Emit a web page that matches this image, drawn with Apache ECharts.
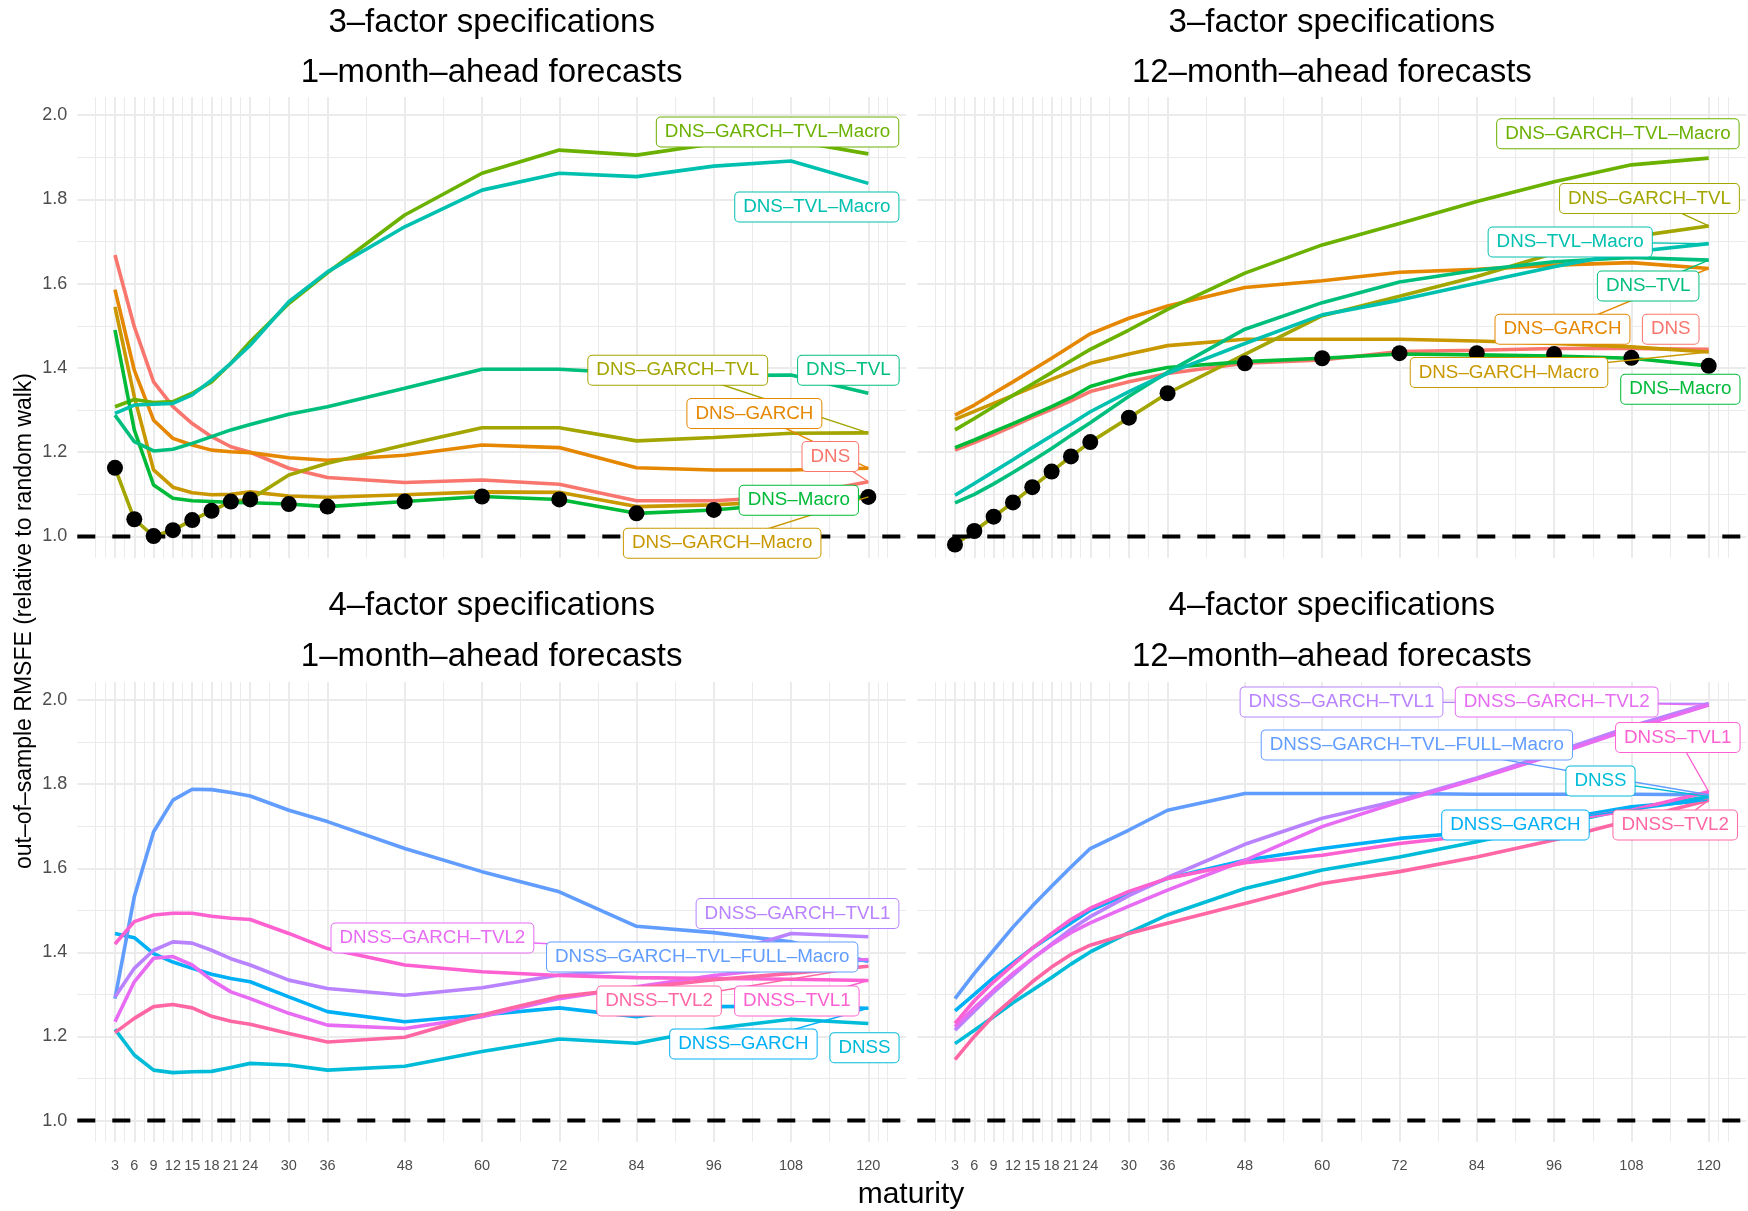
<!DOCTYPE html>
<html><head><meta charset="utf-8">
<script src="https://cdn.jsdelivr.net/npm/echarts@6/dist/echarts.min.js"></script>
<style>html,body{margin:0;padding:0;background:#fff}#c{width:1748px;height:1211px}</style>
</head><body><div id="c"></div>
<script>
// ---------- data ----------
const maturity = [3,6,9,12,15,18,21,24,30,36,48,60,72,84,96,108,120];
const xTickLabels = [3,6,9,12,15,18,21,24,30,36,48,60,72,84,96,108,120];
const xMinorBreaks = [0,1.5,4.5,7.5,10.5,13.5,16.5,19.5,22.5,27,33,42,54,66,78,90,102,114,121.5,123];
const yTickLabels = [1.0,1.2,1.4,1.6,1.8,2.0];
const yMinorBreaks = [1.1,1.3,1.5,1.7,1.9];
const refLevel = 1.0;

const names3 = ['DNS','DNS–GARCH','DNS–GARCH–Macro','DNS–GARCH–TVL','DNS–GARCH–TVL–Macro','DNS–Macro','DNS–TVL','DNS–TVL–Macro'];
const names4 = ['DNSS','DNSS–GARCH','DNSS–GARCH–TVL–FULL–Macro','DNSS–GARCH–TVL1','DNSS–GARCH–TVL2','DNSS–TVL1','DNSS–TVL2'];

// 3-factor, 1-month-ahead
const f3h1_DNS        = [1.668,1.498,1.367,1.308,1.268,1.237,1.213,1.200,1.162,1.140,1.128,1.134,1.124,1.085,1.085,1.095,1.130];
const f3h1_GARCH      = [1.586,1.395,1.276,1.233,1.217,1.205,1.201,1.199,1.187,1.181,1.193,1.217,1.211,1.163,1.158,1.158,1.162];
const f3h1_GARCHMacro = [1.545,1.332,1.158,1.117,1.104,1.099,1.100,1.106,1.096,1.093,1.099,1.106,1.105,1.071,1.075,1.085,1.094];
const f3h1_GARCHTVL   = [1.163,1.041,1.001,1.015,1.039,1.061,1.083,1.088,1.146,1.174,1.217,1.258,1.258,1.227,1.235,1.245,1.246];
const f3h1_GARCHTVLMacro = [1.308,1.325,1.318,1.320,1.340,1.367,1.411,1.462,1.553,1.626,1.763,1.862,1.917,1.905,1.932,1.940,1.908];
const f3h1_Macro      = [1.490,1.253,1.122,1.091,1.085,1.083,1.081,1.080,1.077,1.071,1.083,1.095,1.088,1.055,1.063,1.079,1.095];
const f3h1_TVL        = [1.288,1.225,1.203,1.207,1.221,1.237,1.253,1.266,1.290,1.308,1.352,1.397,1.397,1.387,1.382,1.383,1.340];
const f3h1_TVLMacro   = [1.292,1.312,1.314,1.316,1.336,1.371,1.411,1.454,1.557,1.628,1.735,1.822,1.862,1.854,1.879,1.891,1.838];
const f3h1_best       = [1.163,1.041,1.001,1.015,1.039,1.061,1.083,1.088,1.077,1.071,1.083,1.095,1.088,1.055,1.063,1.079,1.094];

// 3-factor, 12-month-ahead
const f3h12_DNS        = [1.205,1.223,1.242,1.262,1.283,1.302,1.322,1.344,1.367,1.387,1.411,1.419,1.439,1.442,1.446,1.446,1.444];
const f3h12_GARCH      = [1.288,1.312,1.340,1.367,1.395,1.423,1.452,1.481,1.518,1.547,1.591,1.607,1.627,1.634,1.644,1.650,1.636];
const f3h12_GARCHMacro = [1.278,1.297,1.316,1.335,1.354,1.373,1.392,1.411,1.433,1.453,1.468,1.468,1.468,1.464,1.458,1.450,1.438];
const f3h12_GARCHTVL   = [0.981,1.013,1.047,1.081,1.117,1.154,1.190,1.224,1.282,1.340,1.432,1.524,1.570,1.617,1.672,1.711,1.737];
const f3h12_GARCHTVLMacro = [1.253,1.280,1.308,1.335,1.362,1.389,1.417,1.444,1.490,1.539,1.625,1.692,1.743,1.795,1.842,1.882,1.898];
const f3h12_Macro      = [1.211,1.229,1.249,1.268,1.288,1.308,1.330,1.356,1.383,1.401,1.415,1.423,1.433,1.431,1.428,1.423,1.405];
const f3h12_TVL        = [1.080,1.100,1.125,1.152,1.180,1.209,1.240,1.270,1.333,1.390,1.492,1.555,1.604,1.632,1.652,1.662,1.656];
const f3h12_TVLMacro   = [1.098,1.126,1.154,1.182,1.211,1.239,1.267,1.296,1.344,1.387,1.458,1.526,1.561,1.601,1.640,1.675,1.695];
const f3h12_best       = [0.981,1.013,1.047,1.081,1.117,1.154,1.190,1.224,1.282,1.340,1.411,1.423,1.435,1.435,1.433,1.424,1.405];

// 4-factor, 1-month-ahead
const f4h1_DNSS      = [1.217,1.156,1.120,1.114,1.116,1.117,1.126,1.136,1.132,1.120,1.129,1.164,1.194,1.184,1.219,1.241,1.231];
const f4h1_GARCH     = [1.445,1.435,1.397,1.377,1.362,1.348,1.338,1.330,1.294,1.259,1.235,1.251,1.268,1.247,1.271,1.272,1.267];
const f4h1_FULLMacro = [1.290,1.532,1.687,1.762,1.788,1.787,1.780,1.772,1.738,1.711,1.647,1.592,1.544,1.462,1.447,1.425,1.378];
const f4h1_GARCHTVL1 = [1.294,1.362,1.405,1.425,1.422,1.405,1.385,1.370,1.334,1.314,1.298,1.316,1.346,1.358,1.389,1.445,1.437];
const f4h1_GARCHTVL2 = [1.235,1.330,1.386,1.390,1.370,1.334,1.306,1.290,1.255,1.227,1.219,1.247,1.290,1.318,1.345,1.365,1.383];
const f4h1_TVL1      = [1.420,1.473,1.489,1.493,1.493,1.486,1.481,1.478,1.445,1.409,1.370,1.354,1.345,1.340,1.338,1.336,1.333];
const f4h1_TVL2      = [1.209,1.243,1.271,1.276,1.268,1.248,1.236,1.229,1.207,1.187,1.198,1.251,1.295,1.315,1.335,1.350,1.367];

// 4-factor, 12-month-ahead
const f4h12_DNSS      = [1.183,1.215,1.247,1.280,1.310,1.340,1.372,1.401,1.447,1.489,1.552,1.596,1.627,1.663,1.703,1.742,1.770];
const f4h12_GARCH     = [1.261,1.300,1.340,1.375,1.410,1.440,1.470,1.500,1.540,1.576,1.619,1.647,1.671,1.687,1.715,1.746,1.762];
const f4h12_FULLMacro = [1.290,1.350,1.405,1.460,1.510,1.557,1.603,1.647,1.691,1.738,1.778,1.778,1.778,1.776,1.776,1.776,1.775];
const f4h12_GARCHTVL1 = [1.215,1.260,1.305,1.345,1.385,1.420,1.455,1.485,1.535,1.578,1.657,1.719,1.762,1.815,1.875,1.938,1.992];
const f4h12_GARCHTVL2 = [1.223,1.268,1.310,1.350,1.385,1.418,1.447,1.470,1.510,1.548,1.619,1.699,1.758,1.812,1.870,1.932,1.988];
const f4h12_TVL1      = [1.231,1.285,1.330,1.370,1.410,1.445,1.478,1.505,1.545,1.576,1.613,1.631,1.659,1.679,1.711,1.738,1.782];
const f4h12_TVL2      = [1.145,1.200,1.250,1.290,1.330,1.365,1.395,1.417,1.445,1.469,1.516,1.564,1.592,1.627,1.667,1.715,1.762];

// ---------- styling / layout ----------
const col3 = ['#F8766D','#E58700','#C99800','#A3A500','#6BB100','#00BA38','#00BF7D','#00C0AF'];
const col4 = ['#00BCD8','#00B0F6','#619CFF','#B983FF','#E76BF3','#FD61D1','#FF67A4'];

// repelled label anchor positions (maturity, value) and whether a leader segment is drawn
const labPosTL = [[114.1,1.19],[102.3,1.292],[97.3,0.984],[90.4,1.3945],[105.9,1.96],[109.2,1.086],[116.9,1.3945],[112.0,1.782]];
const leaderTL = [1,1,1,1,0,0,0,0];
const labPosTR = [[114.1,1.492],[97.3,1.492],[89.0,1.389],[110.8,1.802],[105.9,1.9557],[115.6,1.3495],[110.6,1.5946],[98.5,1.699]];
const leaderTR = [0,1,1,1,0,0,1,1];
const labPosBL = [[119.4,1.1734],[100.6,1.1823],[94.2,1.389],[109.0,1.4923],[52.3,1.4342],[108.9,1.2843],[87.5,1.2843]];
const leaderBL = [0,1,1,0,1,1,1];
const labPosBR = [[103.2,1.8078],[90.0,1.703],[74.7,1.8934],[63.0,1.9957],[96.4,1.9957],[115.2,1.911],[114.8,1.703]];
const leaderBR = [1,1,1,1,1,1,1];

const X_MIN = -2.85, X_MAX = 125.85, Y_MIN = 0.949, Y_MAX = 2.043;

const panels = [
  {grid:{left:77.3, top:97, width:828.7, height:461}, t1:'3–factor specifications', t2:'1–month–ahead forecasts',
   names:names3, cols:col3, vals:[f3h1_DNS,f3h1_GARCH,f3h1_GARCHMacro,f3h1_GARCHTVL,f3h1_GARCHTVLMacro,f3h1_Macro,f3h1_TVL,f3h1_TVLMacro],
   best:f3h1_best, lab:labPosTL, lead:leaderTL, showX:false, showY:true, ty:[23,73]},
  {grid:{left:917.3, top:97, width:829.1, height:461}, t1:'3–factor specifications', t2:'12–month–ahead forecasts',
   names:names3, cols:col3, vals:[f3h12_DNS,f3h12_GARCH,f3h12_GARCHMacro,f3h12_GARCHTVL,f3h12_GARCHTVLMacro,f3h12_Macro,f3h12_TVL,f3h12_TVLMacro],
   best:f3h12_best, lab:labPosTR, lead:leaderTR, showX:false, showY:false, ty:[23,73]},
  {grid:{left:77.3, top:682, width:828.7, height:460}, t1:'4–factor specifications', t2:'1–month–ahead forecasts',
   names:names4, cols:col4, vals:[f4h1_DNSS,f4h1_GARCH,f4h1_FULLMacro,f4h1_GARCHTVL1,f4h1_GARCHTVL2,f4h1_TVL1,f4h1_TVL2],
   best:null, lab:labPosBL, lead:leaderBL, showX:true, showY:true, ty:[606,657]},
  {grid:{left:917.3, top:682, width:829.1, height:460}, t1:'4–factor specifications', t2:'12–month–ahead forecasts',
   names:names4, cols:col4, vals:[f4h12_DNSS,f4h12_GARCH,f4h12_FULLMacro,f4h12_GARCHTVL1,f4h12_GARCHTVL2,f4h12_TVL1,f4h12_TVL2],
   best:null, lab:labPosBR, lead:leaderBR, showX:true, showY:false, ty:[606,657]}
];

const GRID_COL = '#EBEBEB';
const grids = [], xAxes = [], yAxes = [], series = [], graphics = [];

panels.forEach((p, k) => {
  grids.push(Object.assign({containLabel:false}, p.grid));
  xAxes.push({type:'value', gridIndex:k, min:X_MIN, max:X_MAX,
    axisLine:{show:false}, axisTick:{show:false}, splitLine:{show:false},
    axisLabel:{show:p.showX, customValues:xTickLabels, margin:16, color:'#4D4D4D', fontSize:14.5,
      fontFamily:'"Liberation Sans Narrow", "Liberation Sans", Arial, sans-serif', formatter:v=>String(v)}});
  yAxes.push({type:'value', gridIndex:k, min:Y_MIN, max:Y_MAX,
    axisLine:{show:false}, axisTick:{show:false}, splitLine:{show:false},
    axisLabel:{show:p.showY, customValues:yTickLabels, margin:10, color:'#4D4D4D', fontSize:18,
      fontFamily:'"Liberation Sans", Arial, sans-serif', formatter:v=>v.toFixed(1)}});
  const ax = {xAxisIndex:k, yAxisIndex:k, coordinateSystem:'cartesian2d'};
  // grid lines
  const gl = (arr, vert) => arr.filter(v => vert ? (v>=X_MIN && v<=X_MAX) : (v>=Y_MIN && v<=Y_MAX))
     .map(v => ({coords: vert ? [[v,Y_MIN],[v,Y_MAX]] : [[X_MIN,v],[X_MAX,v]]}));
  series.push(Object.assign({type:'lines', silent:true, z:0, lineStyle:{color:GRID_COL, width:1, opacity:1},
    data: gl(xMinorBreaks,true).concat(gl(yMinorBreaks,false))}, ax));
  series.push(Object.assign({type:'lines', silent:true, z:0, lineStyle:{color:GRID_COL, width:2, opacity:1},
    data: gl(xTickLabels,true).concat(gl(yTickLabels,false))}, ax));
  // model lines
  p.vals.forEach((vals, i) => {
    series.push({type:'line', xAxisIndex:k, yAxisIndex:k, name:p.names[i], showSymbol:false, symbol:'none',
      z:3, silent:true, animation:false,
      data: maturity.map((m, j) => [m, vals[j]]),
      lineStyle:{color:p.cols[i], width:3.6}, itemStyle:{color:p.cols[i]}});
  });
  // reference dashed line
  series.push({type:'line', xAxisIndex:k, yAxisIndex:k, showSymbol:false, symbol:'none', z:4, silent:true,
    data:[[X_MIN, refLevel],[X_MAX, refLevel]], lineStyle:{color:'#000', width:4, type:[18,17]}});
  // best-model dots
  if (p.best) {
    series.push({type:'scatter', xAxisIndex:k, yAxisIndex:k, z:5, silent:true, symbolSize:16,
      itemStyle:{color:'#000', opacity:1}, data: maturity.map((m, j) => [m, p.best[j]])});
  }
  // leader segments
  series.push(Object.assign({type:'lines', silent:true, z:6,
    data: p.names.map((n, i) => p.lead[i] ? {coords:[p.lab[i], [maturity[maturity.length-1], p.vals[i][p.vals[i].length-1]]],
      lineStyle:{color:p.cols[i], width:1.4, opacity:1}} : null).filter(d => d)}, ax));
  // labels
  series.push({type:'scatter', xAxisIndex:k, yAxisIndex:k, z:7, silent:true, symbolSize:1,
    itemStyle:{color:'rgba(0,0,0,0)', opacity:1},
    data: p.names.map((n, i) => ({value:p.lab[i], name:n,
      label:{show:true, position:'inside', formatter:n, color:p.cols[i], fontSize:18.8,
        fontFamily:'"Liberation Sans", Arial, sans-serif', lineHeight:21,
        backgroundColor:'#fff', borderColor:p.cols[i], borderWidth:1, borderRadius:4, padding:[4,8,4,8]}}))});
  // titles
  const cx = p.grid.left + p.grid.width/2;
  [p.t1, p.t2].forEach((t, j) => graphics.push({type:'text', x:cx, y:p.ty[j], z:10, silent:true,
    style:{text:t, fill:'#000', font:'33px "Liberation Sans", Arial, sans-serif', textAlign:'center', textVerticalAlign:'middle'}}));
});

graphics.push({type:'text', x:911, y:1195, silent:true,
  style:{text:'maturity', fill:'#000', font:'30px "Liberation Sans", Arial, sans-serif', textAlign:'center', textVerticalAlign:'middle'}});
graphics.push({type:'text', x:25, y:621, rotation:Math.PI/2, silent:true,
  style:{text:'out–of–sample RMSFE (relative to random walk)', fill:'#000', font:'23px "Liberation Sans", Arial, sans-serif', textAlign:'center', textVerticalAlign:'middle'}});

const chart = echarts.init(document.getElementById('c'), null, {renderer:'canvas'});
chart.setOption({animation:false, backgroundColor:'#fff', grid:grids, xAxis:xAxes, yAxis:yAxes, series:series, graphic:graphics});
</script></body></html>
